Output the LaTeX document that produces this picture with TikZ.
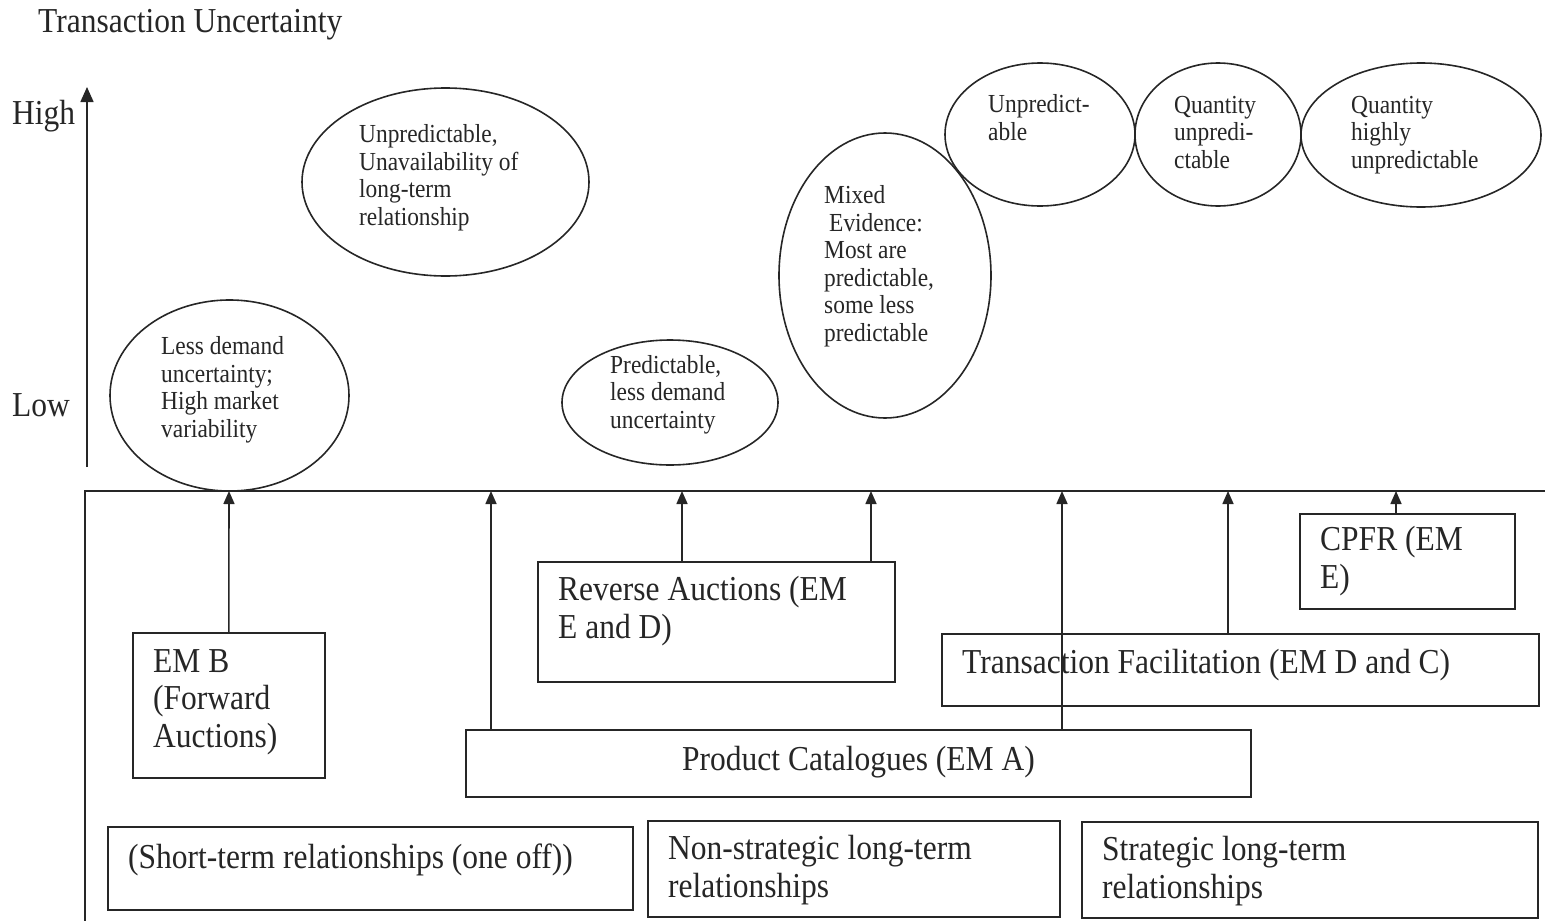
\documentclass[tikz,border=0pt]{standalone}
\usepackage{fontspec}
\setmainfont{Liberation Serif}[FakeStretch=0.9]
\usetikzlibrary{shapes.geometric,arrows.meta}
\begin{document}
\begin{tikzpicture}[x=1pt,y=-1pt,
  ln/.style={line width=1.6pt, draw=black!85},
  oval/.style={ln, ellipse, inner sep=0pt},
  box/.style={ln, rectangle, inner sep=0pt, anchor=north west},
  big/.style={inner sep=0pt, anchor=base west, align=left,
    font=\fontsize{35}{37.5}\selectfont, text=black!85},
  small/.style={inner sep=0pt, anchor=base west, align=left,
    font=\fontsize{26}{27.5}\selectfont, text=black!85},
  arr/.style={ln, -{Triangle[length=13pt,width=11pt]}},
  axisarr/.style={ln, -{Triangle[length=15pt,width=13pt]}},
]
\useasboundingbox (0,0) rectangle (1545,921);

% vertical axis (text nodes are placed by the baseline of their last line)
\node[big] (title) at (38,32) {Transaction Uncertainty};
\node[big] (high) at (12,124) {High};
\node[big] (low) at (12,416) {Low};
\coordinate (ylo) at (87,467);
\coordinate (yhi) at (87,87);
\draw[axisarr] (ylo) -- (yhi);

% frame of the lower panel
\draw[ln] (85,921) -- (85,491) -- (1545,491);

% uncertainty ovals
\node[oval, minimum width=239pt, minimum height=191pt] (e1) at (229.5,395.5) {};
\node[oval, minimum width=287pt, minimum height=188pt] (e2) at (445.5,182) {};
\node[oval, minimum width=216pt, minimum height=125pt] (e3) at (670,402.5) {};
\node[oval, minimum width=212pt, minimum height=285pt] (e4) at (885,275.5) {};
\node[oval, minimum width=190pt, minimum height=143pt] (e5) at (1040,134.5) {};
\node[oval, minimum width=166pt, minimum height=143pt] (e6) at (1218,134.5) {};
\node[oval, minimum width=240pt, minimum height=144pt] (e7) at (1421,135) {};

\node[small] (t1) at (161,437) {Less demand\\uncertainty;\\High market\\variability};
\node[small] (t2) at (359,225) {Unpredictable,\\Unavailability of\\long-term\\relationship};
\node[small] (t3) at (610,428) {Predictable,\\less demand\\uncertainty};
\node[small] (t4) at (824,341) {Mixed\\\hspace*{5pt}Evidence:\\Most are\\predictable,\\some less\\predictable};
\node[small] (t5) at (988,140) {Unpredict-\\able};
\node[small] (t6) at (1174,168) {Quantity\\unpredi-\\ctable};
\node[small] (t7) at (1351,168) {Quantity\\highly\\unpredictable};

% mechanism boxes
\node[box, minimum width=192pt, minimum height=145pt] (emb) at (132,632) {};
\node[box, minimum width=357pt, minimum height=120pt] (rev) at (537,561) {};
\node[box, minimum width=785pt, minimum height=67pt] (pc) at (465,729) {};
\node[box, minimum width=597pt, minimum height=72pt] (tf) at (941,633) {};
\node[box, minimum width=215pt, minimum height=95pt] (cpfr) at (1299,513) {};

\node[big] (temb) at (153,747) {EM B\\(Forward\\Auctions)};
\node[big] (trev) at (558,638) {Reverse Auctions (EM\\E and D)};
\node[big] (tpc) at (682,770) {Product Catalogues (EM A)};
\node[big] (ttf) at (962,673) {Transaction Facilitation (EM D and C)};
\node[big] (tcpfr) at (1320,588) {CPFR (EM\\E)};

% relationship boxes
\node[box, minimum width=525pt, minimum height=83pt] (st) at (107,826) {};
\node[box, minimum width=412pt, minimum height=96pt] (ns) at (647,820) {};
\node[box, minimum width=456pt, minimum height=96pt] (sl) at (1081,821) {};

\node[big] (tst) at (128,868) {(Short-term relationships (one off))};
\node[big] (tns) at (668,897) {Non-strategic long-term\\relationships};
\node[big] (tsl) at (1102,898) {Strategic long-term\\relationships};

% arrow targets on the panel edge
\coordinate (a1) at (229,491);
\coordinate (a2) at (491,491);
\coordinate (a3) at (682,491);
\coordinate (a4) at (871,491);
\coordinate (a5) at (1062,491);
\coordinate (a6) at (1228,491);
\coordinate (a7) at (1396,491);

\draw[arr] (emb.north) -- (a1);
\draw[arr] (a2 |- pc.north) -- (a2);
\draw[arr] (a3 |- rev.north) -- (a3);
\draw[arr] (a4 |- rev.north) -- (a4);
\draw[arr] (a5 |- pc.north) -- (a5);
\draw[arr] (a6 |- tf.north) -- (a6);
\draw[arr] (a7 |- cpfr.north) -- (a7);
\end{tikzpicture}
\end{document}
